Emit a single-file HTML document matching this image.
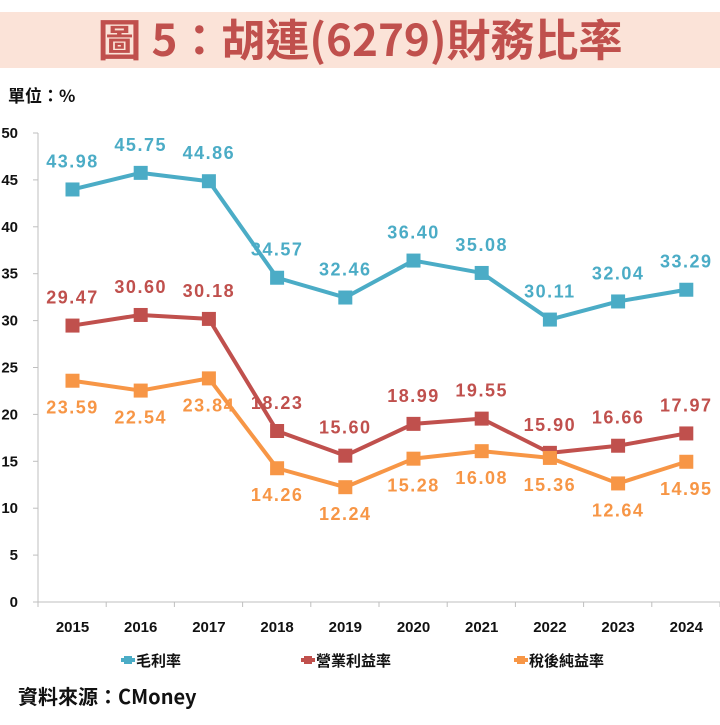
<!DOCTYPE html>
<html><head><meta charset="utf-8"><style>
body{margin:0;background:#fff;}
svg text{font-family:"Liberation Sans","Noto Sans CJK TC",sans-serif;font-weight:bold;}
</style></head><body>
<svg width="720" height="720" viewBox="0 0 720 720" xmlns="http://www.w3.org/2000/svg">
<rect x="0" y="12" width="720" height="56" fill="#fbe3d8"/>
<text x="360" y="56" text-anchor="middle" font-size="44" fill="#c0504d" style="font-family:'Noto Sans CJK TC',sans-serif;font-weight:bold">圖 5：胡連(6279)財務比率</text>
<text x="8" y="102" font-size="17" fill="#111" style="font-family:'Noto Sans CJK TC',sans-serif;font-weight:bold">單位：%</text>
<g id="axes" stroke="#bfbfbf" stroke-width="1">
<line x1="38" y1="133" x2="38" y2="602"/>
<line x1="38" y1="602" x2="720" y2="602"/>
</g>
<g id="ticks"></g>
<g id="series"></g>
<g id="xl" font-size="15" fill="#111" text-anchor="middle"></g>
<g id="yl" font-size="15" fill="#111" text-anchor="end"></g>
<g font-size="15" style="font-family:'Noto Sans CJK TC',sans-serif;font-weight:bold" fill="#111">
<line x1="121" y1="660" x2="135" y2="660" stroke="#4bacc6" stroke-width="4"/><rect x="124" y="656" width="8" height="8" fill="#4bacc6"/>
<text x="136" y="666">毛利率</text>
<line x1="301" y1="660" x2="315" y2="660" stroke="#c0504d" stroke-width="4"/><rect x="304" y="656" width="8" height="8" fill="#c0504d"/>
<text x="316" y="666">營業利益率</text>
<line x1="514" y1="660" x2="528" y2="660" stroke="#f79646" stroke-width="4"/><rect x="517" y="656" width="8" height="8" fill="#f79646"/>
<text x="529" y="666">稅後純益率</text>
</g>
<text x="18" y="704" font-size="20" fill="#111" style="font-family:'Noto Sans CJK TC',sans-serif;font-weight:bold">資料來源：CMoney</text>
</svg>
<script>
const s=document.querySelector('svg'),NS='http://www.w3.org/2000/svg';
function el(t,a,p,txt){const e=document.createElementNS(NS,t);for(const k in a)e.setAttribute(k,a[k]);if(txt!=null)e.textContent=txt;(p||s).appendChild(e);return e;}
const X=i=>72.5+68.2*i,Y=v=>602-v*9.38;
const tk=document.getElementById('ticks');
for(let v=0;v<=50;v+=5){el('line',{x1:33,y1:Y(v),x2:38,y2:Y(v),stroke:'#bfbfbf'},tk);el('text',{x:18,y:Y(v)+5},document.getElementById('yl'),v);}
for(let i=0;i<=10;i++){el('line',{x1:38+68.2*i,y1:602,x2:38+68.2*i,y2:607,stroke:'#bfbfbf'},tk);}
for(let i=0;i<10;i++)el('text',{x:X(i),y:632},document.getElementById('xl'),2015+i);
const data=[
['#4bacc6',[43.98,45.75,44.86,34.57,32.46,36.40,35.08,30.11,32.04,33.29],-1],
['#c0504d',[29.47,30.60,30.18,18.23,15.60,18.99,19.55,15.90,16.66,17.97],-1],
['#f79646',[23.59,22.54,23.84,14.26,12.24,15.28,16.08,15.36,12.64,14.95],1]];
const g=document.getElementById('series');
for(const [c,d,dir] of data){
el('polyline',{points:d.map((v,i)=>X(i)+','+Y(v)).join(' '),fill:'none',stroke:c,'stroke-width':4,'stroke-linejoin':'round'},g);
d.forEach((v,i)=>{el('rect',{x:X(i)-7,y:Y(v)-7,width:14,height:14,fill:c},g);
el('text',{x:X(i),y:Y(v)+(dir<0?-22:33),'font-size':18,'letter-spacing':1.5,fill:c,'text-anchor':'middle'},g,v.toFixed(2));});
}
</script>
</body></html>
